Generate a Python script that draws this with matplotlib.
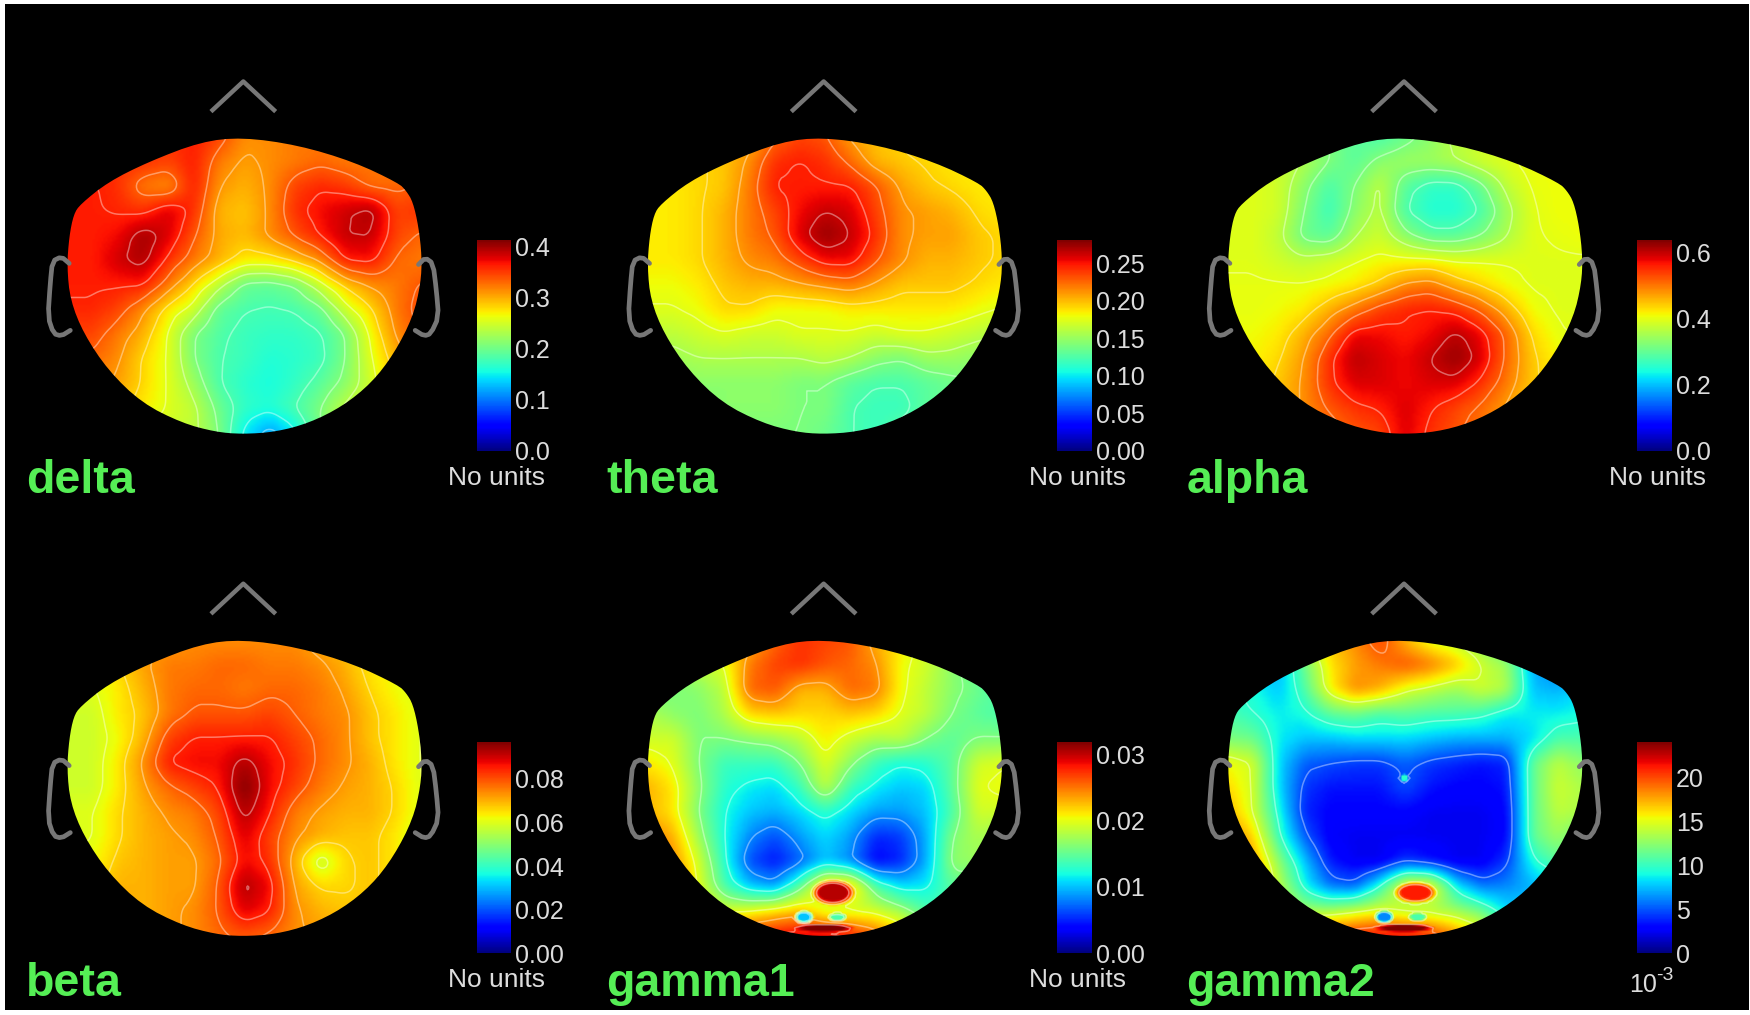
import numpy as np
import matplotlib
matplotlib.use("Agg")
import matplotlib.pyplot as plt
from matplotlib.cm import ScalarMappable
from matplotlib.colors import Normalize
from matplotlib.patches import Polygon, Rectangle

plt.rcParams["font.family"] = ["Liberation Sans", "DejaVu Sans"]

# sensor values, as percent of the colorbar top
# rows go front to back, columns left to right
DELTA = [
    [85, 85, 85, 85, 85, 88, 84, 76, 76, 78, 78, 78, 78, 78, 78],
    [86, 86, 86, 86, 84, 88, 78, 74, 76, 78, 80, 78, 78, 78, 78],
    [88, 88, 86, 78, 76, 88, 75, 72, 76, 84, 87, 85, 80, 80, 82],
    [88, 88, 87, 86, 92, 86, 72, 70, 76, 86, 90, 93, 96, 84, 86],
    [88, 88, 90, 97, 92, 82, 73, 71, 76, 82, 88, 94, 94, 84, 80],
    [88, 88, 93, 96, 86, 78, 72, 66, 66, 70, 76, 88, 89, 80, 78],
    [88, 88, 88, 88, 78, 68, 58, 48, 47, 50, 60, 70, 76, 78, 82],
    [87, 87, 84, 76, 66, 60, 47, 44, 43, 44, 48, 60, 68, 78, 84],
    [84, 84, 78, 72, 62, 50, 45, 42, 41, 41, 43, 50, 64, 76, 82],
    [80, 80, 76, 68, 62, 50, 44, 42, 39, 40, 42, 50, 62, 72, 78],
    [76, 76, 74, 68, 62, 54, 44, 40, 38, 41, 46, 52, 60, 70, 72],
    [70, 70, 70, 66, 62, 58, 48, 41, 39, 44, 50, 58, 62, 66, 68],
    [60, 60, 60, 60, 60, 58, 50, 36, 28, 36, 50, 60, 60, 60, 60],
]
THETA = [
    [70, 70, 70, 70, 72, 80, 84, 82, 74, 70, 68, 66, 66, 66, 66],
    [68, 68, 68, 70, 76, 86, 88, 86, 80, 72, 70, 68, 66, 66, 66],
    [66, 66, 68, 70, 78, 88, 88, 88, 88, 82, 74, 70, 68, 66, 66],
    [66, 66, 68, 72, 78, 84, 90, 94, 92, 84, 76, 74, 72, 68, 66],
    [66, 66, 68, 72, 78, 82, 92, 98, 94, 86, 76, 74, 74, 70, 68],
    [66, 66, 68, 72, 76, 78, 84, 90, 90, 82, 76, 72, 72, 70, 68],
    [64, 64, 66, 70, 72, 72, 74, 76, 78, 74, 70, 70, 70, 68, 66],
    [62, 62, 64, 68, 68, 64, 64, 64, 66, 66, 66, 66, 66, 64, 62],
    [58, 58, 60, 62, 60, 60, 62, 62, 62, 60, 62, 62, 60, 58, 56],
    [54, 54, 56, 56, 56, 56, 56, 58, 56, 52, 50, 54, 54, 52, 52],
    [52, 52, 52, 52, 52, 52, 50, 50, 46, 44, 44, 46, 48, 50, 50],
    [50, 50, 50, 52, 52, 52, 50, 50, 44, 42, 42, 46, 48, 48, 48],
    [50, 50, 50, 50, 50, 50, 50, 48, 44, 42, 46, 48, 48, 48, 48],
]
ALPHA = [
    [52, 52, 52, 52, 50, 46, 44, 48, 52, 58, 60, 60, 60, 60, 60],
    [60, 60, 60, 56, 50, 46, 52, 54, 54, 56, 60, 62, 64, 64, 64],
    [62, 62, 60, 52, 44, 50, 58, 46, 41, 41, 48, 58, 63, 64, 64],
    [62, 62, 60, 50, 42, 52, 58, 44, 39, 39, 44, 54, 62, 64, 64],
    [62, 62, 58, 48, 46, 56, 60, 52, 46, 46, 50, 56, 62, 63, 64],
    [62, 62, 60, 58, 60, 62, 64, 64, 64, 62, 62, 62, 62, 62, 62],
    [63, 63, 63, 63, 64, 66, 70, 76, 78, 72, 68, 64, 62, 62, 62],
    [63, 63, 64, 66, 72, 78, 84, 87, 88, 86, 80, 72, 64, 62, 62],
    [64, 64, 66, 72, 80, 90, 90, 88, 90, 95, 90, 80, 68, 63, 62],
    [65, 65, 68, 75, 86, 95, 92, 90, 94, 98, 92, 80, 70, 65, 63],
    [66, 66, 70, 76, 86, 92, 92, 90, 92, 92, 86, 78, 70, 66, 64],
    [68, 68, 70, 76, 82, 86, 88, 92, 88, 84, 80, 74, 68, 66, 66],
    [70, 70, 70, 74, 78, 82, 84, 92, 86, 82, 78, 74, 70, 70, 70],
]
BETA = [
    [66, 66, 70, 72, 74, 76, 76, 76, 76, 76, 72, 70, 66, 64, 64],
    [64, 64, 68, 74, 78, 78, 80, 80, 78, 78, 76, 72, 66, 64, 64],
    [62, 62, 66, 72, 78, 80, 80, 78, 80, 80, 78, 74, 68, 64, 62],
    [60, 60, 66, 70, 78, 82, 82, 82, 84, 81, 78, 76, 70, 66, 62],
    [60, 60, 64, 72, 84, 88, 88, 88, 88, 84, 80, 76, 70, 66, 62],
    [60, 60, 66, 76, 88, 90, 90, 96, 90, 86, 80, 76, 72, 66, 62],
    [60, 60, 66, 74, 80, 84, 88, 100, 90, 84, 78, 74, 72, 68, 62],
    [62, 62, 68, 72, 76, 78, 84, 96, 88, 78, 74, 72, 72, 68, 62],
    [62, 62, 68, 72, 74, 76, 82, 92, 84, 76, 72, 70, 70, 66, 60],
    [64, 64, 70, 72, 74, 74, 80, 90, 86, 72, 58, 68, 70, 66, 60],
    [66, 66, 72, 72, 74, 74, 82, 96, 90, 74, 68, 68, 70, 66, 62],
    [70, 70, 72, 72, 74, 76, 82, 92, 88, 76, 72, 70, 70, 68, 66],
    [72, 72, 72, 72, 74, 76, 80, 82, 80, 76, 74, 72, 72, 72, 72],
]
GAMMA1 = [
    [70, 70, 70, 70, 72, 80, 86, 84, 82, 72, 66, 60, 56, 50, 48],
    [54, 54, 58, 62, 78, 84, 86, 82, 80, 76, 64, 60, 52, 46, 42],
    [48, 50, 52, 58, 80, 82, 72, 72, 80, 78, 64, 58, 52, 48, 44],
    [56, 52, 50, 56, 68, 70, 68, 68, 70, 68, 62, 58, 50, 46, 44],
    [60, 60, 50, 50, 52, 54, 58, 66, 60, 56, 58, 50, 46, 50, 50],
    [66, 62, 50, 42, 42, 42, 50, 62, 52, 42, 38, 40, 46, 60, 62],
    [72, 66, 52, 40, 36, 34, 42, 58, 42, 36, 32, 34, 46, 62, 64],
    [72, 66, 50, 38, 32, 30, 34, 40, 34, 28, 28, 32, 44, 60, 60],
    [78, 72, 54, 38, 26, 20, 28, 34, 28, 16, 18, 30, 50, 56, 52],
    [84, 76, 60, 40, 20, 14, 22, 32, 26, 12, 16, 30, 52, 54, 50],
    [84, 80, 62, 44, 32, 28, 46, 70, 70, 44, 34, 36, 46, 46, 42],
    [80, 72, 68, 60, 62, 66, 70, 60, 60, 60, 54, 44, 44, 44, 44],
    [86, 86, 86, 86, 86, 90, 92, 92, 88, 80, 70, 56, 50, 44, 44],
]
GAMMA2 = [
    [60, 60, 60, 60, 70, 76, 84, 72, 62, 58, 52, 40, 36, 30, 28],
    [34, 34, 30, 48, 66, 74, 78, 82, 78, 70, 60, 54, 30, 24, 24],
    [40, 38, 32, 44, 64, 76, 72, 62, 58, 54, 60, 56, 32, 30, 34],
    [44, 40, 36, 38, 46, 48, 44, 46, 44, 44, 42, 36, 36, 36, 38],
    [50, 48, 36, 32, 32, 34, 34, 34, 32, 30, 30, 30, 34, 44, 44],
    [64, 60, 34, 22, 20, 18, 18, 22, 18, 16, 14, 16, 46, 58, 52],
    [68, 60, 34, 18, 14, 14, 14, 20, 14, 12, 12, 14, 46, 60, 56],
    [72, 60, 38, 16, 12, 12, 12, 12, 10, 10, 10, 12, 46, 58, 56],
    [78, 68, 42, 22, 11, 10, 10, 10, 10, 10, 10, 12, 46, 54, 46],
    [84, 74, 52, 32, 15, 10, 10, 18, 14, 10, 10, 18, 38, 46, 44],
    [86, 76, 58, 38, 24, 22, 40, 66, 66, 36, 24, 26, 30, 34, 36],
    [84, 70, 60, 54, 54, 58, 62, 56, 56, 54, 48, 34, 34, 34, 34],
    [86, 86, 86, 84, 84, 88, 90, 90, 86, 76, 66, 50, 44, 34, 34],
]
# small features that the grid is too coarse for
SPOT_MAP = [4, 4, 4, 4, 5, 5, 5, 5, 5]
SPOT_X = [226, 200, 230, 218, 228, 200, 230, 218, 218]
SPOT_Y = [350, 372, 372, 382, 350, 372, 372, 382, 247]
SPOT_RX = [20, 9, 9, 28, 20, 9, 9, 28, 4]
SPOT_RY = [12, 6, 4, 4, 10, 6, 4, 4, 4]
SPOT_VAL = [95, 32, 44, 100, 88, 26, 44, 100, 40]

NAMES = ["delta", "theta", "alpha", "beta", "gamma1", "gamma2"]
MAPS = [DELTA, THETA, ALPHA, BETA, GAMMA1, GAMMA2]
VMAX = [0.413, 0.281, 0.637, 0.0969, 0.03185, 24.07]
TICKS = [
    [0.0, 0.1, 0.2, 0.3, 0.4],
    [0.00, 0.05, 0.10, 0.15, 0.20, 0.25],
    [0.0, 0.2, 0.4, 0.6],
    [0.00, 0.02, 0.04, 0.06, 0.08],
    [0.00, 0.01, 0.02, 0.03],
    [0, 5, 10, 15, 20],
]
TICK_LABELS = [
    ["0.0", "0.1", "0.2", "0.3", "0.4"],
    ["0.00", "0.05", "0.10", "0.15", "0.20", "0.25"],
    ["0.0", "0.2", "0.4", "0.6"],
    ["0.00", "0.02", "0.04", "0.06", "0.08"],
    ["0.00", "0.01", "0.02", "0.03"],
    ["0", "5", "10", "15", "20"],
]
# spacing of the contour lines, percent of the colorbar
CONTOUR_STEP = [6.25, 6.25, 6.25, 6.25, 12.5, 20]

W, H = 1750, 1015
S = W / 1568  # layout below was measured on the 1568 wide view

HEAD = [(217, 123), (267, 130), (317, 145), (357, 164), (364, 171), (370, 181), (375, 203), (378, 230),
        (377, 254), (370, 284), (353, 317), (333, 343), (307, 364), (277, 379), (247, 387),
        (217, 389), (193, 387), (163, 379), (127, 361), (97, 332), (75, 299), (63, 269),
        (60, 239), (62, 212), (66, 192), (72, 183), (97, 163), (133, 145), (180, 127)]
NOSE = [(189, 100), (218, 73), (247, 100)]
EAR_L = [(62, 236), (55, 230), (47, 234), (45, 254), (43, 284), (48, 299), (55, 301), (63, 296)]
EAR_R = [(375, 237), (381, 231), (388, 236), (391, 260), (393, 284), (386, 299), (380, 301), (372, 296)]


def upsample(grid, f=12):
    # blocks then a light box blur, so the field and its contours are smooth
    field = np.kron(np.asarray(grid, dtype=float), np.ones((f, f)))
    for size in (f + 1, f // 2 + 1):
        kernel = np.ones(size) / size
        pad = size
        field = np.pad(field, pad, mode="edge")
        field = np.apply_along_axis(lambda r: np.convolve(r, kernel, mode="same"), 0, field)
        field = np.apply_along_axis(lambda r: np.convolve(r, kernel, mode="same"), 1, field)
        field = field[pad:-pad, pad:-pad]
    return field


def chaikin(points, closed=False, rounds=2):
    pts = np.array(points, dtype=float)
    for _ in range(rounds):
        nxt = np.roll(pts, -1, axis=0)
        q = 0.75 * pts + 0.25 * nxt
        r = 0.25 * pts + 0.75 * nxt
        new = np.empty((len(pts) * 2, 2))
        new[0::2], new[1::2] = q, r
        pts = new if closed else np.vstack([pts[0], new[:-2], pts[-1]])
    return pts


def draw_map(ax, idx):
    col, row = idx % 3, idx // 3
    dx, dy = 520 * col, 450 * row
    vmax = VMAX[idx]
    norm = Normalize(0, vmax)

    head = chaikin(np.array(HEAD) + (dx, dy), closed=True) * S
    patch = Polygon(head, closed=True, facecolor="none", edgecolor="none")
    ax.add_patch(patch)

    f = 12
    pct = upsample(MAPS[idx], f)
    ny, nx = np.array(MAPS[idx]).shape
    step_x = (378 - 60) / (nx - 1)
    step_y = (388 - 123) / (ny - 1)
    rel_x = 60 + (np.arange(nx * f) - (f - 1) / 2) / f * step_x
    rel_y = 123 + (np.arange(ny * f) - (f - 1) / 2) / f * step_y
    gx, gy = np.meshgrid(rel_x, rel_y)
    for m, x, y, rx, ry, v in zip(SPOT_MAP, SPOT_X, SPOT_Y, SPOT_RX, SPOT_RY, SPOT_VAL):
        if m == idx:
            w = np.clip(1.6 * (1 - ((gx - x) / rx) ** 2 - ((gy - y) / ry) ** 2), 0, 1)
            pct = pct * (1 - w) + v * w
    field = pct / 100 * vmax
    xs, ys = (rel_x + dx) * S, (rel_y + dy) * S

    im = ax.imshow(field, cmap="jet", norm=norm, aspect="auto", interpolation="bilinear",
                   extent=(xs[0], xs[-1], ys[-1], ys[0]), zorder=2)
    im.set_clip_path(patch)

    levels = np.arange(CONTOUR_STEP[idx], 100, CONTOUR_STEP[idx]) / 100 * vmax
    cs = ax.contour(xs, ys, field, levels=levels, colors="white", linewidths=1.1, alpha=0.4, zorder=3)
    cs.set_clip_path(patch)

    gray = "#777777"
    pts = (np.array(NOSE) + (dx, dy)) * S
    ax.plot(pts[:, 0], pts[:, 1], color=gray, lw=3.2, solid_capstyle="butt", zorder=4)
    for part in (EAR_L, EAR_R):
        pts = chaikin(np.array(part) + (dx, dy), rounds=1) * S
        ax.plot(pts[:, 0], pts[:, 1], color=gray, lw=3.4, solid_capstyle="round", zorder=4)

    ax.text((23 + dx) * S, (442 + dy) * S, NAMES[idx], color="#55ee55", fontsize=33.5,
            fontweight="bold", va="baseline", ha="left", zorder=5)

    # colorbar
    left, top, right, bottom = (427 + dx) * S, (215 + dy) * S, (458 + dx) * S, (404 + dy) * S
    cax = ax.figure.add_axes([left / W, 1 - bottom / H, (right - left) / W, (bottom - top) / H])
    cb = ax.figure.colorbar(ScalarMappable(norm, "jet"), cax=cax)
    cb.outline.set_visible(False)
    cb.set_ticks(TICKS[idx], labels=TICK_LABELS[idx])
    cax.tick_params(length=0, pad=3, labelsize=18, labelcolor="#dddddd")

    if idx < 5:
        ax.text((445 + dx) * S, (428 + dy) * S, "No units", color="#dddddd", fontsize=19,
                ha="center", va="center", zorder=5)
    else:
        ax.text(1460 * S, 889 * S, "10", color="#dddddd", fontsize=18, ha="left", va="baseline", zorder=5)
        ax.text(1484 * S, 878 * S, "-3", color="#dddddd", fontsize=14, ha="left", va="baseline", zorder=5)


fig = plt.figure(figsize=(W / 100, H / 100), dpi=100, facecolor="white")
ax = fig.add_axes([0, 0, 1, 1])
ax.set_axis_off()
ax.add_patch(Rectangle((5, 4), W - 6, H - 9, facecolor="black", edgecolor="none", zorder=1))

for i in range(len(MAPS)):
    draw_map(ax, i)

ax.set_xlim(0, W)
ax.set_ylim(H, 0)

fig.savefig("out.png", dpi=100, facecolor="white")
